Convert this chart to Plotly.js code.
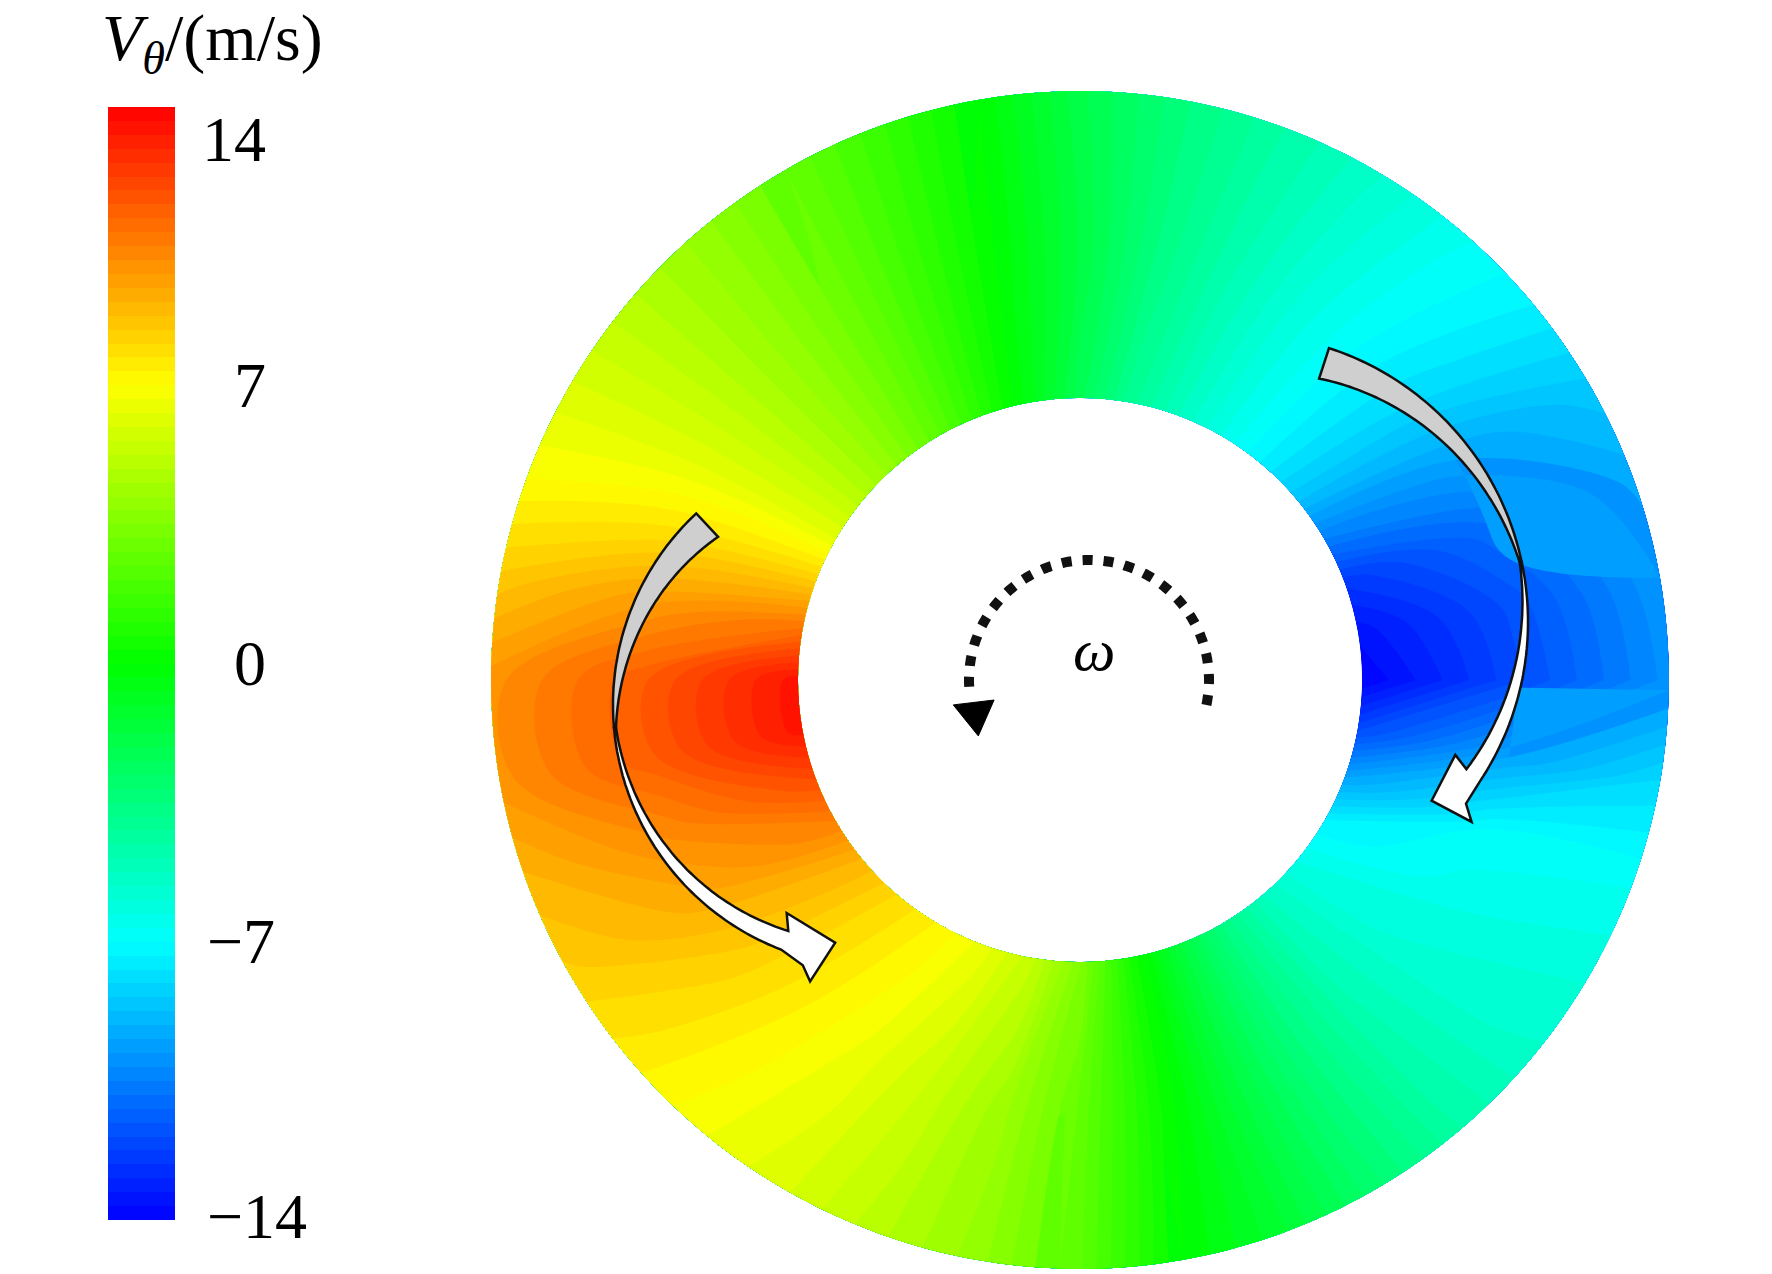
<!DOCTYPE html>
<html>
<head>
<meta charset="utf-8">
<script src="https://cdn.plot.ly/plotly-3.0.1.min.js"></script>
<style>
  html, body { margin: 0; padding: 0; background: #ffffff; }
  #chart { width: 1772px; height: 1274px; }
</style>
</head>
<body>
<div id="chart"></div>
<script>
// ---------------- data ----------------
// angular stations (degrees, counter-clockwise from the +x direction)
const thetaDeg = [0, 10, 20, 30, 40, 50, 60, 70, 80, 90, 100, 110, 120, 130, 140, 150, 160, 170,
                  180, 190, 200, 210, 220, 230, 240, 250, 260, 270, 280, 290, 300, 310, 320, 330, 340, 350];
// tangential velocity V_theta (m/s) at the inner wall, mid gap and outer wall
const vInner = [-14, -13.5, -12.5, -10.5, -8.6, -7.4, -6.3, -5.2, -4, -2.3, -0.6, 1.0, 2.5, 3.8, 5, 6.3, 8.5, 11,
                13.5, 13.5, 12, 10.5, 9, 8, 7.3, 6.5, 5.4, 3.6, 0.7, -1.5, -3.5, -5.2, -6.3, -7.3, -9.5, -12];
const vMid   = [-12, -11.8, -11, -9.5, -8, -7, -6, -4.8, -3.5, -1.8, -0.2, 1.3, 2.7, 3.9, 5, 6.2, 7.8, 9.8,
                11.5, 11.5, 10.3, 9.3, 8.2, 7.3, 6.5, 5.5, 4.3, 2.7, 0.5, -1.5, -3.3, -4.8, -5.8, -6.4, -7, -9.5];
const vOuter = [-10, -9.8, -9.3, -8.5, -7.3, -6.5, -5.5, -4.5, -3.4, -2, 0, 1.5, 2.8, 4, 5, 6, 7, 8.5,
                10, 10, 9, 8.3, 7.5, 6.7, 6, 5, 4, 2.5, 0, -1.3, -3, -4.5, -5.5, -6, -6.7, -8];
// radial stations as fraction of the gap (0 = inner wall, 1 = outer wall)
const radialFrac = [0, 0.5, 1];
// colour bar
const tickVals = [14, 7, 0, -7, -14];
const tickText = ['14', '7', '0', '\u22127', '\u221214'];
const barTitle = '<i>V</i><sub><i>\u03b8</i></sub>/(m/s)';
const omegaLabel = '<i>\u03c9</i>';

// ---------------- geometry (pixels) ----------------
const W = 1772, H = 1274;
const cx = 1080, cy = 680, rIn = 282, rOut = 589;
const deg = Math.PI / 180;

const thetaClosed = thetaDeg.concat([360]);
const closeRing = arr => arr.concat([arr[0]]);
const zGrid = [closeRing(vInner), closeRing(vMid), closeRing(vOuter)];
const xGrid = radialFrac.map(f => thetaClosed.map(t => cx + (rIn + f * (rOut - rIn)) * Math.cos(t * deg)));
const yGrid = radialFrac.map(f => thetaClosed.map(t => cy - (rIn + f * (rOut - rIn)) * Math.sin(t * deg)));

const jet = [
  [0.00, 'rgb(0,0,255)'],
  [0.25, 'rgb(0,255,255)'],
  [0.50, 'rgb(0,255,0)'],
  [0.75, 'rgb(255,255,0)'],
  [1.00, 'rgb(255,0,0)']
];

const hiddenCarpetAxis = {
  showgrid: false, showline: false, showticklabels: 'none',
  startline: false, endline: false, minorgridcount: 0,
  gridwidth: 0, linewidth: 0, tickmode: 'array', tickvals: []
};

const barTop = 107, barBottom = 1220, barLeft = 108, barThick = 67;

const traces = [
  {
    type: 'carpet', carpet: 'ring',
    a: thetaClosed, b: radialFrac,
    x: xGrid, y: yGrid,
    aaxis: hiddenCarpetAxis, baxis: hiddenCarpetAxis,
    hoverinfo: 'skip'
  },
  {
    type: 'contourcarpet', carpet: 'ring',
    a: thetaClosed, b: radialFrac, z: zGrid,
    colorscale: jet, zmin: -14, zmax: 14,
    autocontour: false,
    contours: { start: -14, end: 14, size: 0.35, coloring: 'fill', showlines: false },
    line: { width: 0, smoothing: 1 },
    colorbar: {
      x: barLeft / W, xanchor: 'left', xpad: 0,
      y: 1 - barTop / H, yanchor: 'top', ypad: 0,
      len: barBottom - barTop, lenmode: 'pixels',
      thickness: barThick, thicknessmode: 'pixels',
      outlinewidth: 0, showticklabels: false, ticks: ''
    }
  }
];

// ---------------- decorations ----------------
function pt(c, r, th) { return [c[0] + r * Math.cos(th * deg), c[1] - r * Math.sin(th * deg)]; }
function pathOf(points) {
  return 'M' + points.map(p => p[0].toFixed(1) + ',' + p[1].toFixed(1)).join(' L') + ' Z';
}
// ribbon segment: outer edge at radius Ro, inner edge at Ro - width (linear from w0 to w1)
function ribbon(c, Ro, th0, th1, w0, w1, head) {
  const n = 60, pts = [];
  for (let i = 0; i <= n; i++) { const t = th0 + (th1 - th0) * i / n; pts.push(pt(c, Ro, t)); }
  (head || []).forEach(h => pts.push(pt(c, h[1], h[0])));
  for (let i = n; i >= 0; i--) {
    const t = th0 + (th1 - th0) * i / n;
    const w = w0 + (w1 - w0) * i / n;
    pts.push(pt(c, Ro - w, t));
  }
  return pathOf(pts);
}
const arrowStyle = { color: '#111111', width: 2.5 };
const greyFill = '#cfcfcf';

// right arrow (clockwise)
const cR = [1240, 622];
const rightHead = [[-38.8, 290], [-40.8, 306], [-43.0, 262], [-31.7, 253]];
// left arrow (counter-clockwise)
const cL = [875, 705];
const leftHead = [[254.5, 270], [256.8, 284], [260.5, 241], [247.0, 226]];

// dotted rotation arc
const cO = [1089, 680], rO = 120;
const arcPts = [];
for (let t = -12; t <= 186; t += 1) arcPts.push(pt(cO, rO, t));
const arcPath = 'M' + arcPts.map(p => p[0].toFixed(1) + ',' + p[1].toFixed(1)).join(' L');
const triPath = pathOf([pt(cO, 138, 190.4), pt(cO, 97, 191.9), pt(cO, 124, 206.8)]);

const shapes = [
  { type: 'path', xref: 'x', yref: 'y', path: ribbon(cR, 288, 72, 12, 32, 2), fillcolor: greyFill, line: arrowStyle },
  { type: 'path', xref: 'x', yref: 'y', path: ribbon(cR, 288, 12, -33, 2, 18, rightHead), fillcolor: '#ffffff', line: arrowStyle },
  { type: 'path', xref: 'x', yref: 'y', path: ribbon(cL, 262, 133, 185, 32, 2), fillcolor: greyFill, line: arrowStyle },
  { type: 'path', xref: 'x', yref: 'y', path: ribbon(cL, 262, 185, 249, 2, 20, leftHead), fillcolor: '#ffffff', line: arrowStyle },
  { type: 'path', xref: 'x', yref: 'y', path: arcPath, line: { color: '#111111', width: 10, dash: '10px,11px' } },
  { type: 'path', xref: 'x', yref: 'y', path: triPath, fillcolor: '#000000', line: { color: '#000000', width: 1 } }
];

const serif = 'Liberation Serif, Times New Roman, serif';
// tick labels sit at their value along the bar, kept inside the bar's ends
const barMap = v => barTop + (14 - v) / 28 * (barBottom - barTop);
const annotations = tickVals.map((v, i) => ({
  xref: 'x', yref: 'y',
  x: v < 0 ? 205 : 268, xanchor: v < 0 ? 'left' : 'right',
  y: Math.min(Math.max(barMap(v), barTop + 32), barBottom - 4), yanchor: 'middle',
  text: tickText[i], showarrow: false,
  font: { family: serif, size: 64, color: '#000000' }
}));
annotations.push({
  xref: 'x', yref: 'y', x: 100, xanchor: 'left', y: 42, yanchor: 'middle',
  text: barTitle, showarrow: false,
  font: { family: serif, size: 66, color: '#000000' }
});
annotations.push({
  xref: 'x', yref: 'y', x: 1094, xanchor: 'center', y: 650, yanchor: 'middle',
  text: omegaLabel, showarrow: false,
  font: { family: serif, size: 60, color: '#000000' }
});

const layout = {
  width: W, height: H,
  margin: { l: 0, r: 0, t: 0, b: 0, pad: 0 },
  paper_bgcolor: '#ffffff', plot_bgcolor: '#ffffff',
  showlegend: false,
  xaxis: { range: [0, W], visible: false, fixedrange: true },
  yaxis: { range: [H, 0], visible: false, fixedrange: true },
  shapes: shapes,
  annotations: annotations
};

Plotly.newPlot('chart', traces, layout, { displayModeBar: false, staticPlot: true });
</script>
</body>
</html>
